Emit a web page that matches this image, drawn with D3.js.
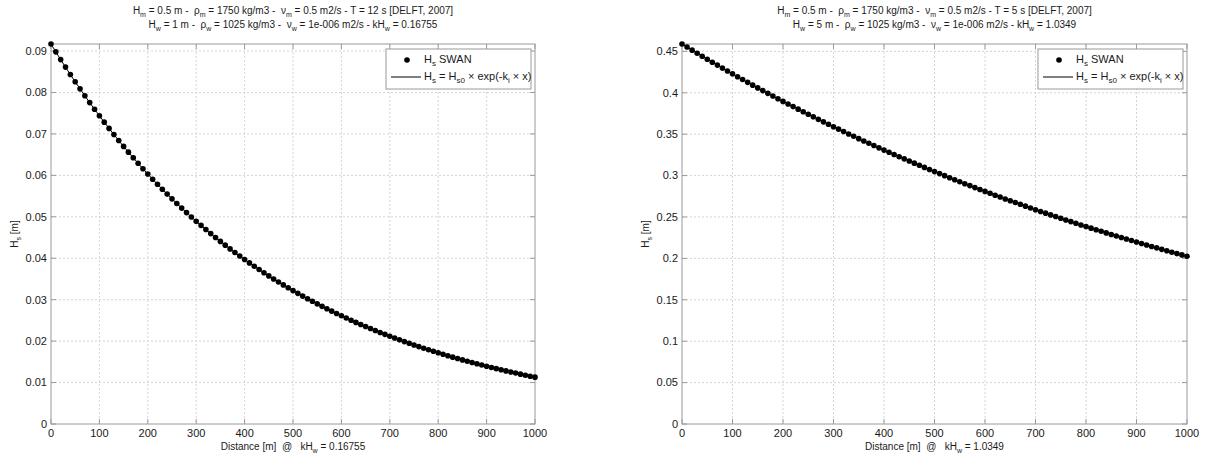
<!DOCTYPE html>
<html>
<head>
<meta charset="utf-8">
<script src="https://cdn.jsdelivr.net/npm/d3@7"></script>
<style>
  body { margin: 0; background: #fff; }
  svg { display: block; font-family: "Liberation Sans", Arial, sans-serif; }
  text { white-space: pre; }
</style>
</head>
<body>
<div id="chart"></div>
<script>
// distance along the flume [m], one SWAN output point every 10 m
const distance = [
  0, 10, 20, 30, 40, 50, 60, 70, 80, 90,
  100, 110, 120, 130, 140, 150, 160, 170, 180, 190,
  200, 210, 220, 230, 240, 250, 260, 270, 280, 290,
  300, 310, 320, 330, 340, 350, 360, 370, 380, 390,
  400, 410, 420, 430, 440, 450, 460, 470, 480, 490,
  500, 510, 520, 530, 540, 550, 560, 570, 580, 590,
  600, 610, 620, 630, 640, 650, 660, 670, 680, 690,
  700, 710, 720, 730, 740, 750, 760, 770, 780, 790,
  800, 810, 820, 830, 840, 850, 860, 870, 880, 890,
  900, 910, 920, 930, 940, 950, 960, 970, 980, 990,
  1000
];

// Hs [m], T = 12 s case
const hsT12 = [
  0.09170, 0.08980, 0.08794, 0.08612, 0.08433, 0.08259, 0.08088, 0.07920, 0.07756, 0.07595,
  0.07438, 0.07284, 0.07133, 0.06985, 0.06840, 0.06699, 0.06560, 0.06424, 0.06291, 0.06160,
  0.06033, 0.05908, 0.05785, 0.05666, 0.05548, 0.05433, 0.05321, 0.05210, 0.05102, 0.04997,
  0.04893, 0.04792, 0.04693, 0.04595, 0.04500, 0.04407, 0.04316, 0.04226, 0.04139, 0.04053,
  0.03969, 0.03887, 0.03806, 0.03727, 0.03650, 0.03574, 0.03500, 0.03428, 0.03357, 0.03287,
  0.03219, 0.03153, 0.03087, 0.03023, 0.02961, 0.02899, 0.02839, 0.02780, 0.02723, 0.02666,
  0.02611, 0.02557, 0.02504, 0.02452, 0.02401, 0.02352, 0.02303, 0.02255, 0.02208, 0.02163,
  0.02118, 0.02074, 0.02031, 0.01989, 0.01948, 0.01907, 0.01868, 0.01829, 0.01791, 0.01754,
  0.01718, 0.01682, 0.01647, 0.01613, 0.01580, 0.01547, 0.01515, 0.01484, 0.01453, 0.01423,
  0.01393, 0.01364, 0.01336, 0.01309, 0.01281, 0.01255, 0.01229, 0.01203, 0.01178, 0.01154,
  0.01130
];

// Hs [m], T = 5 s case
const hsT5 = [
  0.4589, 0.4552, 0.4515, 0.4478, 0.4441, 0.4405, 0.4369, 0.4334, 0.4298, 0.4263,
  0.4229, 0.4194, 0.4160, 0.4126, 0.4092, 0.4059, 0.4026, 0.3993, 0.3961, 0.3928,
  0.3896, 0.3865, 0.3833, 0.3802, 0.3771, 0.3740, 0.3710, 0.3679, 0.3649, 0.3620,
  0.3590, 0.3561, 0.3532, 0.3503, 0.3475, 0.3446, 0.3418, 0.3390, 0.3363, 0.3335,
  0.3308, 0.3281, 0.3255, 0.3228, 0.3202, 0.3176, 0.3150, 0.3124, 0.3099, 0.3073,
  0.3048, 0.3024, 0.2999, 0.2974, 0.2950, 0.2926, 0.2902, 0.2879, 0.2855, 0.2832,
  0.2809, 0.2786, 0.2763, 0.2741, 0.2718, 0.2696, 0.2674, 0.2653, 0.2631, 0.2609,
  0.2588, 0.2567, 0.2546, 0.2525, 0.2505, 0.2484, 0.2464, 0.2444, 0.2424, 0.2404,
  0.2385, 0.2365, 0.2346, 0.2327, 0.2308, 0.2289, 0.2271, 0.2252, 0.2234, 0.2216,
  0.2198, 0.2180, 0.2162, 0.2144, 0.2127, 0.2109, 0.2092, 0.2075, 0.2058, 0.2042,
  0.2025
];

const xTicks = [0, 100, 200, 300, 400, 500, 600, 700, 800, 900, 1000];
const yTicksT12 = [0, 0.01, 0.02, 0.03, 0.04, 0.05, 0.06, 0.07, 0.08, 0.09];
const yTicksT5 = [0, 0.05, 0.1, 0.15, 0.2, 0.25, 0.3, 0.35, 0.4, 0.45];

const width = 1211, height = 457;
const axisColor = "#9a9a9a";
const textColor = "#1a1a1a";

const svg = d3.select("#chart").append("svg")
    .attr("width", width)
    .attr("height", height);

// writes a text made of plain strings and {s: "..."} subscript pieces
function richText(sel, parts, size) {
    let shifted = false;
    parts.forEach(p => {
        if (typeof p === "string") {
            sel.append("tspan")
                .attr("dy", shifted ? -3 : 0)
                .style("font-size", size + "px")
                .text(p);
            shifted = false;
        } else {
            sel.append("tspan")
                .attr("dy", shifted ? 0 : 3)
                .style("font-size", (size - 3) + "px")
                .text(p.s);
            shifted = true;
        }
    });
    return sel;
}

function panel(opt) {
    const x = d3.scaleLinear().domain([0, 1000]).range([opt.left, opt.right]);
    const y = d3.scaleLinear().domain([0, opt.yMax]).range([opt.bottom, opt.top]);
    const g = svg.append("g");

    // dotted grid
    g.append("g").selectAll("line.gx")
        .data(xTicks.slice(1, -1))
        .join("line")
        .attr("x1", d => x(d)).attr("x2", d => x(d))
        .attr("y1", opt.top).attr("y2", opt.bottom)
        .attr("stroke", "#d4d4d4")
        .attr("stroke-dasharray", "2,2");
    g.append("g").selectAll("line.gy")
        .data(opt.yTicks.slice(1))
        .join("line")
        .attr("x1", opt.left).attr("x2", opt.right)
        .attr("y1", d => y(d)).attr("y2", d => y(d))
        .attr("stroke", "#d4d4d4")
        .attr("stroke-dasharray", "2,2");

    // inward ticks on all four sides
    const tickLen = 5;
    const ticks = g.append("g").attr("stroke", axisColor);
    xTicks.forEach(v => {
        ticks.append("line").attr("x1", x(v)).attr("x2", x(v))
            .attr("y1", opt.bottom).attr("y2", opt.bottom - tickLen);
        ticks.append("line").attr("x1", x(v)).attr("x2", x(v))
            .attr("y1", opt.top).attr("y2", opt.top + tickLen);
    });
    opt.yTicks.forEach(v => {
        ticks.append("line").attr("x1", opt.left).attr("x2", opt.left + tickLen)
            .attr("y1", y(v)).attr("y2", y(v));
        ticks.append("line").attr("x1", opt.right).attr("x2", opt.right - tickLen)
            .attr("y1", y(v)).attr("y2", y(v));
    });

    g.append("rect")
        .attr("x", opt.left).attr("y", opt.top)
        .attr("width", opt.right - opt.left).attr("height", opt.bottom - opt.top)
        .attr("fill", "none")
        .attr("stroke", axisColor);

    // tick labels
    g.append("g").selectAll("text")
        .data(xTicks)
        .join("text")
        .attr("x", d => x(d))
        .attr("y", opt.bottom + 13)
        .attr("text-anchor", "middle")
        .attr("fill", textColor)
        .style("font-size", "11px")
        .text(d => d);
    g.append("g").selectAll("text")
        .data(opt.yTicks)
        .join("text")
        .attr("x", opt.left - 4)
        .attr("y", d => y(d))
        .attr("dy", "0.35em")
        .attr("text-anchor", "end")
        .attr("fill", textColor)
        .style("font-size", "11px")
        .text(d => d);

    // fitted curve and SWAN points
    const pts = distance.map((d, i) => [d, opt.values[i]]);
    g.append("path")
        .datum(pts)
        .attr("fill", "none")
        .attr("stroke", "#000")
        .attr("stroke-width", 1)
        .attr("d", d3.line().x(d => x(d[0])).y(d => y(d[1])));
    g.append("g").selectAll("circle")
        .data(pts)
        .join("circle")
        .attr("cx", d => x(d[0]))
        .attr("cy", d => y(d[1]))
        .attr("r", 2.8)
        .attr("fill", "#000");

    // titles
    const cx = (opt.left + opt.right) / 2;
    opt.title.forEach((line, i) => {
        richText(g.append("text")
            .attr("x", cx)
            .attr("y", 14 + i * 14)
            .attr("text-anchor", "middle")
            .attr("fill", textColor), line, 10);
    });

    richText(g.append("text")
        .attr("x", cx)
        .attr("y", opt.bottom + 26)
        .attr("text-anchor", "middle")
        .attr("fill", textColor), opt.xLabel, 10);

    richText(g.append("text")
        .attr("transform", `translate(${opt.left - 33},${(opt.top + opt.bottom) / 2}) rotate(-90)`)
        .attr("text-anchor", "middle")
        .attr("fill", textColor), ["H", {s: "s"}, " [m]"], 10);

    // legend
    const lw = 145, lh = 40;
    const lx = opt.right - lw - 4, ly = opt.top + 5;
    const leg = g.append("g").attr("transform", `translate(${lx},${ly})`);
    leg.append("rect")
        .attr("width", lw).attr("height", lh)
        .attr("fill", "#fff")
        .attr("stroke", axisColor);
    leg.append("circle").attr("cx", 21).attr("cy", 11).attr("r", 2.8).attr("fill", "#000");
    richText(leg.append("text").attr("x", 38).attr("y", 14).attr("fill", textColor),
        ["H", {s: "s"}, " SWAN"], 11);
    leg.append("line")
        .attr("x1", 5).attr("x2", 35).attr("y1", 28).attr("y2", 28)
        .attr("stroke", "#000");
    richText(leg.append("text").attr("x", 38).attr("y", 31).attr("fill", textColor),
        ["H", {s: "s"}, " = H", {s: "s0"}, " \u00d7 exp(-k", {s: "i"}, " \u00d7 x)"], 11);
}

panel({
    left: 51, right: 535, top: 44, bottom: 424,
    yMax: 0.0917,
    yTicks: yTicksT12,
    values: hsT12,
    title: [
        ["H", {s: "m"}, " = 0.5 m -  \u03c1", {s: "m"}, " = 1750 kg/m3 -  \u03bd", {s: "m"}, " = 0.5 m2/s - T = 12 s [DELFT, 2007]"],
        ["H", {s: "w"}, " = 1 m -  \u03c1", {s: "w"}, " = 1025 kg/m3 -  \u03bd", {s: "w"}, " = 1e-006 m2/s - kH", {s: "w"}, " = 0.16755"]
    ],
    xLabel: ["Distance [m]  @   kH", {s: "w"}, " = 0.16755"]
});

panel({
    left: 682, right: 1187, top: 44, bottom: 424,
    yMax: 0.4589,
    yTicks: yTicksT5,
    values: hsT5,
    title: [
        ["H", {s: "m"}, " = 0.5 m -  \u03c1", {s: "m"}, " = 1750 kg/m3 -  \u03bd", {s: "m"}, " = 0.5 m2/s - T = 5 s [DELFT, 2007]"],
        ["H", {s: "w"}, " = 5 m -  \u03c1", {s: "w"}, " = 1025 kg/m3 -  \u03bd", {s: "w"}, " = 1e-006 m2/s - kH", {s: "w"}, " = 1.0349"]
    ],
    xLabel: ["Distance [m]  @   kH", {s: "w"}, " = 1.0349"]
});
</script>
</body>
</html>
